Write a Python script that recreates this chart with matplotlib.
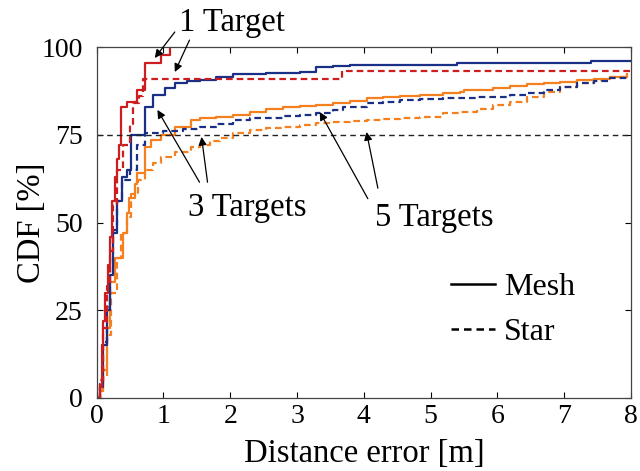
import matplotlib
matplotlib.use("Agg")
import matplotlib.pyplot as plt
from matplotlib.lines import Line2D

plt.rcParams['font.family'] = ['Liberation Serif', 'DejaVu Serif']

# 1 target
t1_mesh_x = [0, 0.05, 0.08, 0.1, 0.13, 0.17, 0.2, 0.23, 0.27, 0.3, 0.33, 0.36, 0.46, 0.61, 0.72, 0.97, 1.1]
t1_mesh_y = [0, 3, 15, 22, 30, 38, 46, 56, 63, 68, 72, 83, 84.3, 87.7, 95.4, 97.7, 100]
t1_star_x = [0, 0.05, 0.1, 0.15, 0.2, 0.25, 0.3, 0.4, 0.5, 0.55, 0.63, 0.7, 3.67, 8]
t1_star_y = [0, 5, 20, 32, 42, 55, 65, 72, 78, 84, 86, 90.8, 93.2, 93.2]

# 3 targets
t3_mesh_x = [0, 0.05, 0.1, 0.15, 0.2, 0.25, 0.3, 0.38, 0.45, 0.52, 0.72, 0.84, 1.02, 1.17, 1.36,
             1.54, 1.79, 2.04, 2.54, 3.04, 3.29, 3.54, 3.79, 5.4, 7.4, 8]
t3_mesh_y = [0, 3, 15, 25, 35, 47, 56, 63, 65, 75, 83, 86.3, 88.3, 89.7, 90.3,
             90.6, 91.5, 92.2, 92.5, 93.0, 94.4, 94.6, 94.9, 95.4, 96, 96]
t3_star_x = [0, 0.05, 0.1, 0.15, 0.2, 0.25, 0.3, 0.38, 0.5, 0.6, 0.72, 1.0, 1.3, 1.54, 1.79,
             2.04, 2.29, 2.54, 2.79, 3.04, 3.29, 3.54, 3.69, 4.04, 4.29, 4.54, 4.84, 5.19, 5.69,
             6.19, 6.44, 6.69, 6.94, 7.19, 7.44, 7.69, 7.94]
t3_star_y = [0, 4, 16, 26, 38, 48, 56, 62, 65, 72, 75.5, 76, 76.7, 77.3, 78.2,
             79.2, 79.7, 79.9, 80.3, 80.6, 81.3, 82.0, 83.0, 84.0, 84.4, 84.9, 85.1, 85.4, 85.8,
             86.3, 86.8, 87.7, 88.7, 89.7, 90.4, 91.1, 92.0]

# 5 targets
t5_mesh_x = [0, 0.05, 0.1, 0.15, 0.2, 0.28, 0.39, 0.45, 0.49, 0.57, 0.61, 0.72, 0.82, 0.97, 1.17,
             1.42, 1.54, 1.79, 2.04, 2.29, 2.54, 2.79, 3.04, 3.29, 3.54, 3.79, 4.04, 4.29, 4.54,
             4.84, 5.19, 5.44, 5.5, 5.94, 6.19, 6.44, 6.69, 6.94, 7.19, 7.44, 7.69, 7.94]
t5_mesh_y = [0, 2, 8, 20, 33, 40, 47, 52.7, 57, 61, 64, 71.5, 73.5, 74.9, 77.2,
             79.2, 79.7, 80.2, 80.6, 81.6, 82.5, 83.0, 83.2, 83.5, 84.0, 84.6, 85.4, 85.8, 86.1,
             86.4, 86.8, 87.3, 87.9, 88.4, 89.0, 89.4, 89.7, 90.1, 90.6, 90.9, 91.4, 92.0]
t5_star_x = [0, 0.05, 0.1, 0.15, 0.22, 0.3, 0.37, 0.45, 0.52, 0.62, 0.72, 0.84, 0.97, 1.17, 1.42,
             1.54, 1.69, 1.84, 2.04, 2.29, 2.54, 2.79, 3.04, 3.29, 3.54, 3.79, 4.04, 4.29, 4.54,
             4.84, 5.19, 5.44, 5.69, 5.94, 6.19, 6.44, 6.69, 6.94, 7.19, 7.44, 7.69, 7.94]
t5_star_y = [0, 2, 6, 18, 30, 40, 47, 51.6, 58, 62, 65, 67, 68.7, 70, 71.5,
             72.1, 73.1, 74.0, 75.5, 76.4, 76.9, 77.3, 77.8, 78.3, 78.7, 78.9, 79.2, 79.4, 79.7,
             80.1, 81.1, 81.6, 82.5, 83.5, 84.4, 85.8, 87.3, 88.7, 89.7, 90.6, 91.6, 92.5]

red = '#cc1e1e'
blue = '#1a2f86'
orange = '#f5801f'
star_dash = (0, (3, 1.8))

fig = plt.figure(figsize=(6.4, 4.71), dpi=100)
ax = fig.add_axes([0.151, 0.155, 0.835, 0.745])

lw = 1.6
ax.plot(t5_star_x, t5_star_y, color=orange, lw=lw, ls=star_dash, drawstyle='steps-post')
ax.plot(t5_mesh_x, t5_mesh_y, color=orange, lw=lw, drawstyle='steps-post')
ax.plot(t3_star_x, t3_star_y, color=blue, lw=lw, ls=star_dash, drawstyle='steps-post')
ax.plot(t3_mesh_x, t3_mesh_y, color=blue, lw=lw, drawstyle='steps-post')
ax.plot(t1_star_x, t1_star_y, color=red, lw=lw, ls=star_dash, drawstyle='steps-post')
ax.plot(t1_mesh_x, t1_mesh_y, color=red, lw=lw, drawstyle='steps-post')

ax.axhline(75, color='#222222', lw=1.0, ls=(0, (4, 3)))

ax.set_xlim(0, 8)
ax.set_ylim(0, 100)
ax.set_xticks(range(0, 9))
ax.set_yticks([0, 25, 50, 75, 100])
ax.tick_params(direction='in', top=True, right=True, labelsize=20, length=4, width=0.8)
ax.tick_params(axis='x', pad=4)
ax.tick_params(axis='y', pad=10)
for s in ax.spines.values():
    s.set_linewidth(0.9)
    s.set_color('#444444')
ax.set_xlabel('Distance error [m]', fontsize=23.5, labelpad=7)
ax.set_ylabel('CDF [%]', fontsize=23.5, labelpad=-4)

arrow = dict(arrowstyle='-|>', color='black', lw=0.9, mutation_scale=12, shrinkA=0, shrinkB=0)
ax.text(2.02, 107.0, '1 Target', fontsize=23.5, ha='center', va='center', clip_on=False)
ax.annotate('', xy=(0.87, 96.9), xytext=(1.17, 104.3), arrowprops=arrow, annotation_clip=False)
ax.annotate('', xy=(1.17, 92.9), xytext=(1.39, 102.0), arrowprops=arrow, annotation_clip=False)

ax.text(2.25, 54.2, '3 Targets', fontsize=23.5, ha='center', va='center')
ax.annotate('', xy=(0.91, 82.1), xytext=(1.54, 61.5), arrowprops=arrow)
ax.annotate('', xy=(1.57, 74.4), xytext=(1.66, 61.5), arrowprops=arrow)

ax.text(5.05, 51.5, '5 Targets', fontsize=23.5, ha='center', va='center')
ax.annotate('', xy=(3.34, 81.5), xytext=(4.06, 56.8), arrowprops=arrow)
ax.annotate('', xy=(4.04, 75.8), xytext=(4.21, 59.8), arrowprops=arrow)

handles = [Line2D([], [], color='black', lw=1.8),
           Line2D([], [], color='black', lw=1.8, ls=(0, (3, 2)))]
ax.legend(handles, ['Mesh', 'Star'], frameon=False, fontsize=23, loc='upper left',
          bbox_to_anchor=(0.609, 0.439), handlelength=1.37, handletextpad=0.3, labelspacing=0.5)

fig.savefig('out.png', dpi=100)
